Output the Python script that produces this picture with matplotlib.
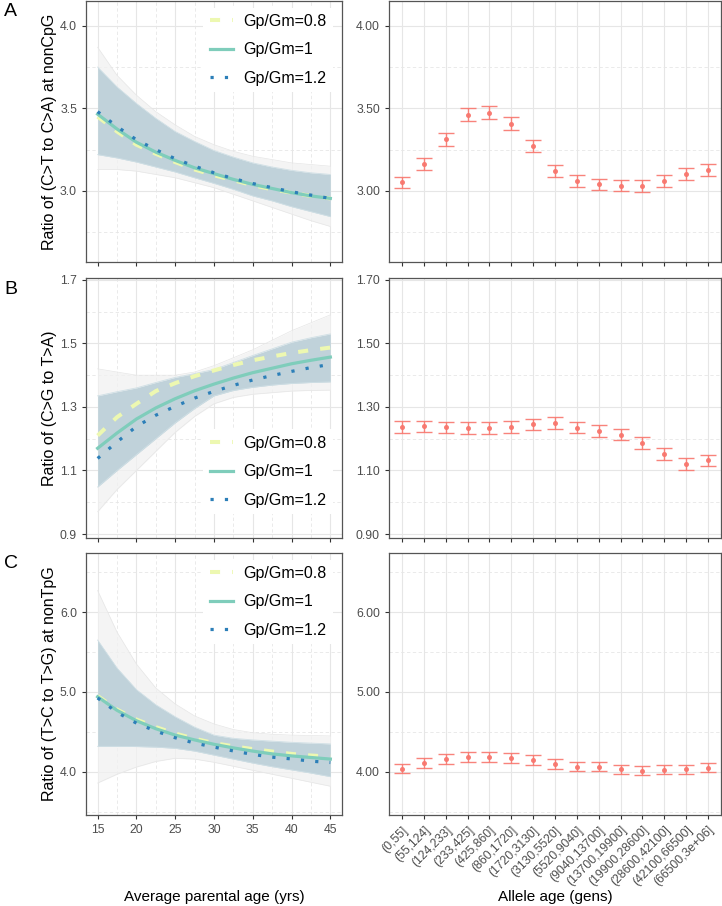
import matplotlib
matplotlib.use('Agg')
import matplotlib.pyplot as plt
import numpy as np

plt.rcParams['font.family'] = ['Liberation Sans', 'DejaVu Sans']

# Parental age grid (yrs), values read every 2.5 yrs
ages = [15, 17.5, 20, 22.5, 25, 27.5, 30, 32.5, 35, 37.5, 40, 42.5, 45]

# Panel A: ratio of (C>T to C>A) at nonCpG
a_08 = [3.45, 3.36, 3.28, 3.225, 3.175, 3.13, 3.095, 3.065, 3.035, 3.01, 2.99, 2.97, 2.955]
a_10 = [3.465, 3.375, 3.295, 3.235, 3.185, 3.14, 3.105, 3.07, 3.04, 3.015, 2.99, 2.97, 2.955]
a_12 = [3.48, 3.39, 3.31, 3.25, 3.195, 3.15, 3.11, 3.075, 3.045, 3.02, 2.995, 2.975, 2.955]
a_band_hi = [3.75, 3.63, 3.53, 3.44, 3.36, 3.30, 3.245, 3.205, 3.17, 3.145, 3.125, 3.11, 3.10]
a_band_lo = [3.22, 3.20, 3.175, 3.145, 3.115, 3.08, 3.046, 3.01, 2.97, 2.94, 2.905, 2.875, 2.845]
a_grey_hi = [3.87, 3.70, 3.58, 3.48, 3.40, 3.33, 3.28, 3.24, 3.21, 3.19, 3.17, 3.16, 3.15]
a_grey_lo = [3.13, 3.13, 3.12, 3.10, 3.08, 3.05, 3.02, 2.98, 2.94, 2.90, 2.86, 2.82, 2.785]

# Panel B: ratio of (C>G to T>A)
b_08 = [1.21, 1.268, 1.31, 1.35, 1.375, 1.397, 1.415, 1.432, 1.447, 1.459, 1.470, 1.479, 1.487]
b_10 = [1.170, 1.218, 1.262, 1.297, 1.326, 1.351, 1.372, 1.391, 1.408, 1.422, 1.436, 1.447, 1.457]
b_12 = [1.138, 1.19, 1.2385, 1.274, 1.302, 1.328, 1.349, 1.368, 1.385, 1.399, 1.412, 1.424, 1.434]
b_band_hi = [1.335, 1.348, 1.36, 1.377, 1.393, 1.405, 1.418, 1.44, 1.462, 1.483, 1.504, 1.518, 1.53]
b_band_lo = [1.048, 1.10, 1.15, 1.20, 1.25, 1.295, 1.335, 1.352, 1.362, 1.369, 1.374, 1.377, 1.379]
b_grey_hi = [1.42, 1.41, 1.40, 1.40, 1.40, 1.41, 1.43, 1.455, 1.48, 1.51, 1.54, 1.565, 1.59]
b_grey_lo = [0.97, 1.04, 1.10, 1.16, 1.22, 1.27, 1.31, 1.33, 1.34, 1.345, 1.35, 1.352, 1.353]

# Panel C: ratio of (T>C to T>G) at nonTpG
c_08 = [4.95, 4.78, 4.655, 4.56, 4.48, 4.415, 4.36, 4.32, 4.285, 4.255, 4.225, 4.205, 4.19]
c_10 = [4.94, 4.77, 4.64, 4.54, 4.46, 4.40, 4.345, 4.30, 4.26, 4.225, 4.20, 4.18, 4.16]
c_12 = [4.925, 4.745, 4.61, 4.51, 4.427, 4.36, 4.31, 4.262, 4.218, 4.184, 4.162, 4.134, 4.117]
c_band_hi = [5.65, 5.30, 5.03, 4.84, 4.69, 4.56, 4.46, 4.42, 4.40, 4.385, 4.37, 4.36, 4.35]
c_band_lo = [4.32, 4.32, 4.317, 4.31, 4.295, 4.26, 4.21, 4.16, 4.11, 4.065, 4.025, 3.985, 3.94]
c_grey_hi = [6.27, 5.75, 5.35, 5.05, 4.85, 4.70, 4.60, 4.53, 4.49, 4.47, 4.46, 4.455, 4.45]
c_grey_lo = [3.86, 3.97, 4.06, 4.13, 4.17, 4.16, 4.12, 4.07, 4.02, 3.97, 3.92, 3.87, 3.82]

# Allele age bins and observed ratios
age_bins = ['(0,55]', '(55,124]', '(124,233]', '(233,425]', '(425,860]', '(860,1720]',
            '(1720,3130]', '(3130,5520]', '(5520,9040]', '(9040,13700]', '(13700,19900]',
            '(19900,28600]', '(28600,42100]', '(42100,66500]', '(66500,3e+06]']
obs_a = [3.052, 3.163, 3.313, 3.462, 3.474, 3.408, 3.271, 3.120, 3.060, 3.040, 3.032, 3.030, 3.060, 3.104, 3.129]
err_a = [0.035, 0.036, 0.038, 0.039, 0.040, 0.040, 0.037, 0.036, 0.035, 0.035, 0.035, 0.036, 0.036, 0.037, 0.037]
obs_b = [1.237, 1.239, 1.236, 1.234, 1.234, 1.237, 1.245, 1.250, 1.235, 1.225, 1.213, 1.186, 1.152, 1.121, 1.132]
err_b = [0.018] * 15
obs_c = [4.042, 4.108, 4.166, 4.187, 4.191, 4.179, 4.146, 4.096, 4.067, 4.067, 4.033, 4.017, 4.029, 4.033, 4.054]
err_c = [0.056, 0.060, 0.062, 0.062, 0.062, 0.062, 0.060, 0.060, 0.058, 0.058, 0.058, 0.058, 0.058, 0.058, 0.058]

ylabels = ['Ratio of (C>T to C>A) at nonCpG', 'Ratio of (C>G to T>A)',
           'Ratio of (T>C to T>G) at nonTpG']
letters = ['A', 'B', 'C']
legend_labels = ['Gp/Gm=0.8', 'Gp/Gm=1', 'Gp/Gm=1.2']
ylims = [(2.57, 4.15), (0.8875, 1.706), (3.46, 6.74)]
yticks = [[3.0, 3.5, 4.0], [0.9, 1.1, 1.3, 1.5, 1.7], [4.0, 5.0, 6.0]]
yminor = [[2.75, 3.25, 3.75], [1.0, 1.2, 1.4, 1.6], [3.5, 4.5, 5.5, 6.5]]

curves = [(a_08, a_10, a_12), (b_08, b_10, b_12), (c_08, c_10, c_12)]
bands = [(a_band_lo, a_band_hi, a_grey_lo, a_grey_hi),
         (b_band_lo, b_band_hi, b_grey_lo, b_grey_hi),
         (c_band_lo, c_band_hi, c_grey_lo, c_grey_hi)]
obs = [(obs_a, err_a), (obs_b, err_b), (obs_c, err_c)]

col_08, col_10, col_12 = '#edf8b1', '#7fcdbb', '#2c7fb8'
grid_col = '#e6e6e6'
txt_col = '#4d4d4d'

W, H = 722, 906
fig = plt.figure(figsize=(W / 100, H / 100), dpi=100)
rows = [(1, 262), (278, 538), (553, 815)]  # top, bottom pixel rows


def style_axes(ax):
    for sp in ax.spines.values():
        sp.set_color('#555555')
        sp.set_linewidth(0.9)
    ax.tick_params(axis='both', which='major', length=3, color='#333333',
                   labelsize=8.8, labelcolor=txt_col, width=0.8)
    ax.tick_params(axis='both', which='minor', length=0)
    ax.grid(True, which='major', color=grid_col, lw=0.8)
    ax.grid(True, which='minor', color=grid_col, lw=0.6, ls=(0, (4, 3)))
    ax.set_axisbelow(True)


for i in range(3):
    top, bot = rows[i]
    ax = fig.add_axes([86 / W, 1 - bot / H, 256 / W, (bot - top) / H])
    ax2 = fig.add_axes([389 / W, 1 - bot / H, 332 / W, (bot - top) / H])

    # left: model curves over the bootstrap spread
    lo, hi, glo, ghi = bands[i]
    ax.fill_between(ages, glo, ghi, color='#f1f1f1', alpha=0.75, lw=0)
    ax.fill_between(ages, lo, hi, color='#bed1d9', alpha=0.95, lw=0)
    for arr in (glo, ghi):
        ax.plot(ages, arr, color='#e6e6e6', lw=0.5)
    for arr in (lo, hi):
        ax.plot(ages, arr, color='#cfdfe5', lw=0.6)
    y08, y10, y12 = curves[i]
    ax.plot(ages, y08, color=col_08, lw=2.9, ls=(0, (2.5, 3)), label=legend_labels[0])
    ax.plot(ages, y10, color=col_10, lw=2.3, label=legend_labels[1])
    ax.plot(ages, y12, color=col_12, lw=2.3, ls=(0, (1, 3.5)), label=legend_labels[2])
    ax.set_xlim(13.5, 46.5)
    ax.set_ylim(*ylims[i])
    ax.set_xticks([15, 20, 25, 30, 35, 40, 45])
    ax.set_xticks([17.5, 22.5, 27.5, 32.5, 37.5, 42.5], minor=True)
    ax.set_yticks(yticks[i])
    ax.set_yticks(yminor[i], minor=True)
    ax.set_yticklabels(['%.1f' % v for v in yticks[i]])
    style_axes(ax)
    if i < 2:
        ax.set_xticklabels([])
    ax.set_ylabel(ylabels[i], fontsize=11.5)
    ax.yaxis.set_label_coords(-0.115, 0.5)

    leg_kw = dict(fontsize=11.5, labelspacing=0.84, handlelength=1.45,
                  handletextpad=0.65, borderpad=0.4, borderaxespad=0,
                  frameon=True, fancybox=False)
    if i == 1:
        leg = ax.legend(loc='lower right', bbox_to_anchor=(0.965, 0.092), **leg_kw)
    else:
        leg = ax.legend(loc='upper right', bbox_to_anchor=(0.965, 0.975), **leg_kw)
    leg.get_frame().set_edgecolor('none')
    leg.get_frame().set_facecolor('white')
    leg.get_frame().set_alpha(1)

    # right: observed ratios by allele age
    m, e = obs[i]
    xs = np.arange(len(age_bins))
    ax2.errorbar(xs, m, yerr=e, fmt='o', ms=2.6, color='#f8766d', ecolor='#f8766d',
                 elinewidth=1.0, capsize=5.5, capthick=1.0, alpha=0.9)
    ax2.set_xlim(-0.6, len(age_bins) - 0.4)
    ax2.set_ylim(*ylims[i])
    ax2.set_xticks(xs)
    ax2.set_yticks(yticks[i])
    ax2.set_yticks(yminor[i], minor=True)
    ax2.set_yticklabels(['%.2f' % v for v in yticks[i]])
    style_axes(ax2)
    ax2.grid(False, which='minor', axis='x')
    if i < 2:
        ax2.set_xticklabels([])
    else:
        ax2.set_xticklabels(age_bins, rotation=45, ha='right', va='top',
                            rotation_mode='anchor')

    fig.text(4 / W, 1 - (top + 11) / H, letters[i], fontsize=14, va='center', ha='left')

fig.text(214 / W, 1 - 897 / H, 'Average parental age (yrs)', fontsize=11,
         ha='center', va='center')
fig.text(555 / W, 1 - 897 / H, 'Allele age (gens)', fontsize=11,
         ha='center', va='center')

fig.savefig('out.png', dpi=100)
